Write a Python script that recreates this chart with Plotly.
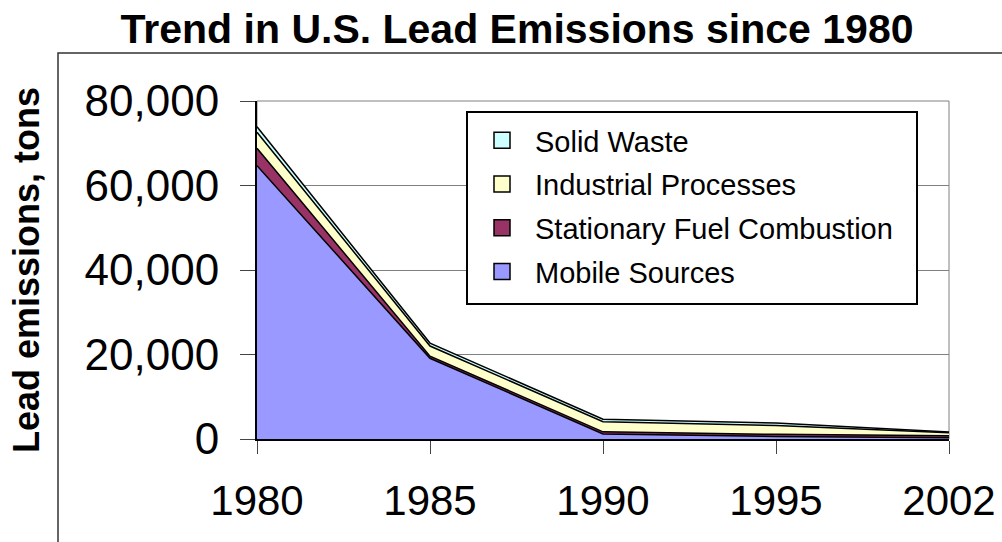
import plotly.graph_objects as go

years = ["1980", "1985", "1990", "1995", "2002"]
mobile = [64700, 19100, 1200, 600, 300]
stationary = [4100, 500, 500, 500, 450]
industrial = [3800, 2400, 2400, 2100, 750]
solid_waste = [1300, 700, 600, 600, 150]

series = [
    ("Mobile Sources", mobile, "#9999FF"),
    ("Stationary Fuel Combustion", stationary, "#993366"),
    ("Industrial Processes", industrial, "#FFFFCC"),
    ("Solid Waste", solid_waste, "#CCFFFF"),
]

W, H = 1002, 542
L, R, T, B = 257, 53, 101, 103
pw, ph = W - L - R, H - T - B


def px_x(v):
    return (v - L) / pw


def px_y(v):
    return (H - B - v) / ph


fig = go.Figure()
for name, vals, color in series:
    fig.add_trace(go.Scatter(
        x=years, y=vals, name=name, mode="lines",
        stackgroup="one", showlegend=False,
        line=dict(color="black", width=1.5),
        fillcolor=color,
    ))

# square legend swatches, top entry = top layer
for rank, (name, vals, color) in enumerate(reversed(series)):
    fig.add_trace(go.Scatter(
        x=[None], y=[None], name=name, mode="markers",
        legendgroup=name, legendrank=rank + 1,
        marker=dict(symbol="square", size=16, color=color,
                    line=dict(color="black", width=1.5)),
    ))

font = "Liberation Sans, Arial, sans-serif"

fig.update_layout(
    width=W, height=H,
    margin=dict(l=L, r=R, t=T, b=B),
    paper_bgcolor="white", plot_bgcolor="white",
    font=dict(family=font, color="black"),
    title=dict(
        text="<b>Trend in U.S. Lead Emissions since 1980</b>",
        font=dict(size=41),
        x=0.516, xanchor="center", y=0.947, yanchor="middle",
    ),
    showlegend=True,
    legend=dict(
        x=px_x(469), y=px_y(115), xanchor="left", yanchor="top",
        traceorder="grouped", tracegroupgap=3,
        borderwidth=0, bgcolor="rgba(0,0,0,0)",
        font=dict(size=29), itemwidth=56,
    ),
    xaxis=dict(
        type="category", range=[0, 4], showgrid=False, automargin=False,
        showline=True, linecolor="black", linewidth=1.5,
        ticks="outside", ticklen=13, tickcolor="#444",
        tickfont=dict(size=42), ticklabelstandoff=11,
    ),
    yaxis=dict(
        range=[0, 80000], dtick=20000, tickformat=",d", automargin=False,
        showgrid=True, gridcolor="#808080", gridwidth=1,
        showline=True, linecolor="black", linewidth=2,
        ticks="outside", ticklen=15, tickcolor="#444",
        tickfont=dict(size=44), ticklabelstandoff=12,
        title=dict(text="<b>Lead emissions, tons</b>", font=dict(size=36), standoff=34),
        zeroline=False,
    ),
)

# plot area frame (gray top/right), legend box and outer chart border
fig.add_shape(type="rect", xref="paper", yref="paper", x0=0, x1=1, y0=0, y1=1,
              line=dict(color="#808080", width=1), layer="below")
fig.add_shape(type="rect", xref="paper", yref="paper",
              x0=px_x(467), x1=px_x(917), y0=px_y(304), y1=px_y(112),
              line=dict(color="black", width=2), fillcolor="white", layer="above")
fig.add_shape(type="rect", xref="paper", yref="paper",
              x0=px_x(58), x1=2, y0=-1, y1=px_y(53),
              line=dict(color="#333333", width=1.5), layer="below")

fig.write_html("out.html", config={"displayModeBar": False},
               post_script="document.body.style.margin='0';")
